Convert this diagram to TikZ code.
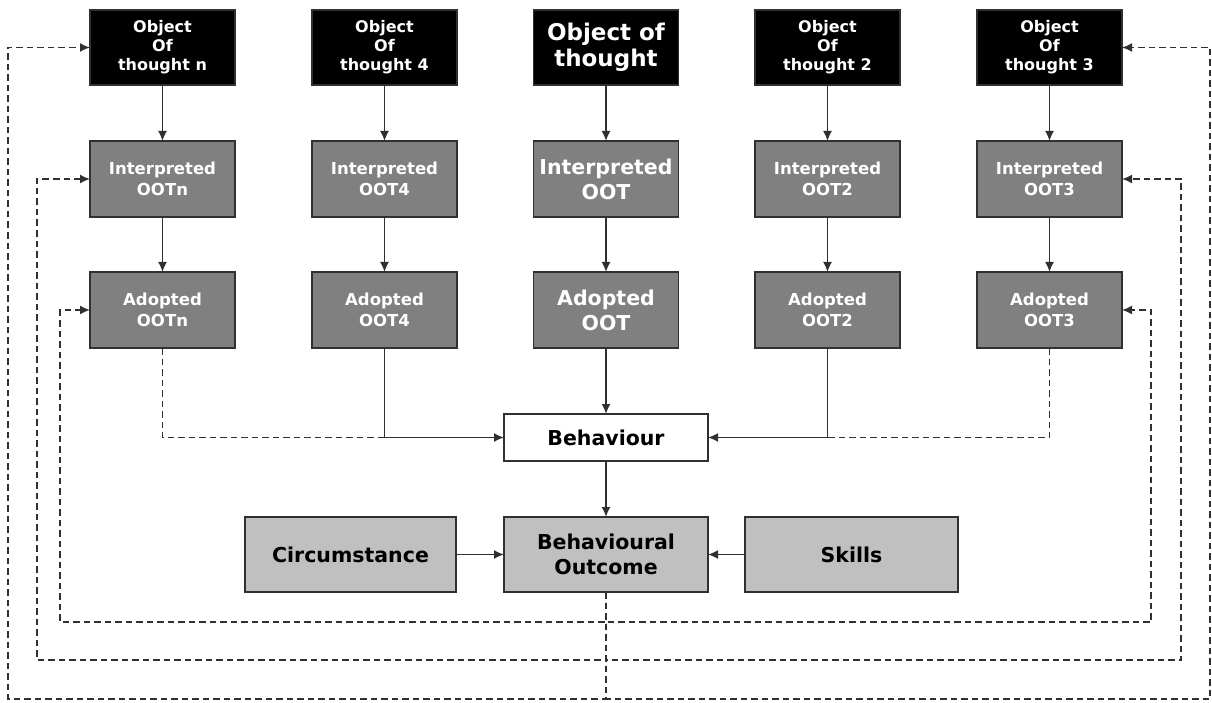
\documentclass[tikz,border=0pt]{standalone}
\usepackage{fontspec}
\setmainfont{DejaVu Sans}
\usetikzlibrary{arrows.meta}
\definecolor{edge}{HTML}{303030}
\definecolor{midgray}{HTML}{808080}
\definecolor{lightgray}{HTML}{C0C0C0}
\definecolor{paper}{HTML}{FFFFFF}
\begin{document}
\begin{tikzpicture}[x=1pt,y=-1pt,
  box/.style={draw=edge, line width=1.8pt, rectangle, inner sep=0pt, outer sep=0pt, align=center},
  small/.style={font=\fontsize{16}{19}\selectfont\bfseries},
  smallmid/.style={font=\fontsize{16.5}{21}\selectfont\bfseries},
  big/.style={font=\fontsize{20.5}{25}\selectfont\bfseries},
  objbox/.style={box, fill=black, text=white, minimum width=145pt, minimum height=75pt},
  stagebox/.style={box, fill=midgray, text=white, minimum width=145pt, minimum height=76pt},
  outbox/.style={box, fill=lightgray, text=black, minimum height=75pt},
  link/.style={draw=edge, line width=1.7pt, -{Latex[length=10pt,width=9pt]}},
  fb/.style={draw=edge, line width=1.6pt, dash pattern=on 6.5pt off 4pt},
  fbarrow/.style={fb, -{Latex[length=10pt,width=9pt]}}
]
\useasboundingbox (0,0) rectangle (1212,703);
\fill[paper] (0,0) rectangle (1212,703);

% top row: objects of thought
\node[objbox, small] (objn) at (162.5,47.5) {Object\\Of\\thought n};
\node[objbox, small] (obj4) at (384.5,47.5) {Object\\Of\\thought 4};
\node[objbox, font=\fontsize{23}{26}\selectfont\bfseries] (obj)  at (606,47.5) {Object of\\thought};
\node[objbox, small] (obj2) at (827.5,47.5) {Object\\Of\\thought 2};
\node[objbox, small] (obj3) at (1049.5,47.5) {Object\\Of\\thought 3};

% interpreted row
\node[stagebox, smallmid] (intn) at (162.5,179) {Interpreted\\OOTn};
\node[stagebox, smallmid] (int4) at (384.5,179) {Interpreted\\OOT4};
\node[stagebox, big]      (int)  at (606,179)   {Interpreted\\OOT};
\node[stagebox, smallmid] (int2) at (827.5,179) {Interpreted\\OOT2};
\node[stagebox, smallmid] (int3) at (1049.5,179) {Interpreted\\OOT3};

% adopted row
\node[stagebox, smallmid] (adpn) at (162.5,310) {Adopted\\OOTn};
\node[stagebox, smallmid] (adp4) at (384.5,310) {Adopted\\OOT4};
\node[stagebox, big]      (adp)  at (606,310)   {Adopted\\OOT};
\node[stagebox, smallmid] (adp2) at (827.5,310) {Adopted\\OOT2};
\node[stagebox, smallmid] (adp3) at (1049.5,310) {Adopted\\OOT3};

% behaviour and outcome
\node[box, fill=white, big, minimum width=204pt, minimum height=47pt] (beh) at (606,437.5) {Behaviour};
\node[outbox, big, minimum width=204pt] (out)  at (606,554.5)   {Behavioural\\Outcome};
\node[outbox, big, minimum width=211pt] (circ) at (350.5,554.5) {Circumstance};
\node[outbox, big, minimum width=213pt] (skl)  at (851.5,554.5) {Skills};

% vertical chains
\foreach \c in {n,4,,2,3}{
  \draw[link] (obj\c) -- (int\c);
  \draw[link] (int\c) -- (adp\c);
}

% adopted thoughts into behaviour
\coordinate (jl) at (adp4.south |- beh.west);
\coordinate (jr) at (adp2.south |- beh.east);
\draw[fb] (adpn.south) |- (jl);
\draw[fb] (adp3.south) |- (jr);
\draw[link] (adp4.south) |- (beh.west);
\draw[link] (adp2.south) |- (beh.east);
\draw[link] (adp) -- (beh);

% behaviour to outcome
\draw[link] (beh) -- (out);
\draw[link] (circ) -- (out);
\draw[link] (skl) -- (out);

% feedback loops from the outcome
\draw[fbarrow] (out.south) |- (60,622)   |- (adpn.west);
\draw[fbarrow] (out.south) |- (37,660)   |- (intn.west);
\draw[fbarrow] (out.south) |- (8,699)    |- (objn.west);
\draw[fbarrow] (out.south) |- (1151,622) |- (adp3.east);
\draw[fbarrow] (out.south) |- (1181,660) |- (int3.east);
\draw[fbarrow] (out.south) |- (1210,699) |- (obj3.east);
\end{tikzpicture}
\end{document}
